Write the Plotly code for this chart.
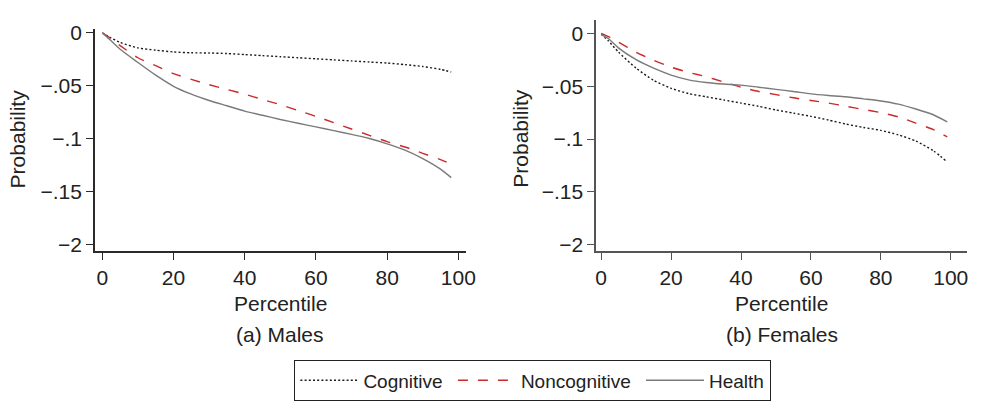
import plotly.graph_objects as go

# ---- data ----
pct_m = [0, 2, 5, 10, 15, 20, 25, 30, 35, 40, 45, 50, 55, 60, 65, 70, 75, 80, 85, 90, 95, 98]
cog_m = [0, -0.004, -0.009, -0.0142, -0.0163, -0.018, -0.0188, -0.019, -0.0195, -0.0205, -0.0215,
         -0.0225, -0.0235, -0.0245, -0.0255, -0.0265, -0.0275, -0.0285, -0.030, -0.0318, -0.0345, -0.037]
non_m = [0, -0.0045, -0.012, -0.0235, -0.031, -0.0385, -0.044, -0.049, -0.0535, -0.058, -0.063,
         -0.068, -0.0735, -0.079, -0.085, -0.091, -0.097, -0.103, -0.108, -0.114, -0.120, -0.124]
hea_m = [0, -0.006, -0.0155, -0.028, -0.040, -0.0505, -0.058, -0.064, -0.069, -0.074, -0.078,
         -0.082, -0.0855, -0.089, -0.0925, -0.096, -0.100, -0.105, -0.111, -0.119, -0.129, -0.137]

pct_f = [0, 2, 5, 10, 15, 20, 25, 30, 35, 40, 45, 50, 55, 60, 65, 70, 75, 80, 85, 90, 95, 99]
cog_f = [-0.001, -0.007, -0.018, -0.033, -0.0445, -0.052, -0.057, -0.060, -0.063, -0.066, -0.069,
         -0.0725, -0.0755, -0.0785, -0.082, -0.0858, -0.089, -0.0918, -0.096, -0.1018, -0.111, -0.1216]
non_f = [0, -0.003, -0.0085, -0.018, -0.0255, -0.032, -0.037, -0.041, -0.046, -0.051, -0.055,
         -0.058, -0.061, -0.0635, -0.066, -0.069, -0.072, -0.075, -0.079, -0.085, -0.091, -0.098]
hea_f = [-0.001, -0.005, -0.014, -0.025, -0.033, -0.0395, -0.044, -0.0465, -0.048, -0.049, -0.051,
         -0.053, -0.055, -0.0573, -0.0588, -0.060, -0.062, -0.064, -0.067, -0.0716, -0.077, -0.0837]

series_names = ["Cognitive", "Noncognitive", "Health"]
y_tickvals = [0, -0.05, -0.1, -0.15, -0.2]
y_ticktext = ["0", "\u2212.05", "\u2212.1", "\u2212.15", "\u22122"]
x_tickvals = [0, 20, 40, 60, 80, 100]
panel_titles = ["(a) Males", "(b) Females"]
x_title = "Percentile"
y_title = "Probability"

# ---- styles ----
FONT = "Liberation Sans, Arial, Helvetica, sans-serif"
TXT = "#222222"
styles = [
    dict(color="#1a1a1a", width=1.4, dash="2px,2.2px"),
    dict(color="#cc2a2a", width=1.4, dash="10px,10px"),
    dict(color="#7a7a7a", width=1.4, dash="solid"),
]
PAD = "\u00a0"
legend_labels = [series_names[0] + PAD, series_names[1] + PAD, series_names[2]]

fig = go.Figure()
panels = [(pct_m, [cog_m, non_m, hea_m], "x", "y"), (pct_f, [cog_f, non_f, hea_f], "x2", "y2")]
for pi, (xs, ys_list, xa, ya) in enumerate(panels):
    for si, ys in enumerate(ys_list):
        fig.add_trace(go.Scatter(
            x=xs, y=ys, mode="lines", name=legend_labels[si],
            line=dict(shape="spline", smoothing=0.6, **styles[si]),
            xaxis=xa, yaxis=ya, showlegend=(pi == 0), hoverinfo="skip"))

W, H = 984, 401
def px_x(p): return p / W
def px_y(p): return 1 - p / H

axis_common = dict(showgrid=False, zeroline=False, showline=True, ticks="outside",
                   ticklen=7, tickwidth=1.2,
                   tickfont=dict(family=FONT, size=21, color=TXT))

fig.update_layout(
    width=W, height=H, margin=dict(l=0, r=0, t=0, b=0),
    paper_bgcolor="white", plot_bgcolor="white",
    font=dict(family=FONT, color=TXT),
    xaxis=dict(domain=[px_x(95), px_x(470)], range=[-2.08, 102.08], tickvals=x_tickvals,
               anchor="y", linecolor="#2a2a2a", linewidth=1.6, tickcolor="#2a2a2a", **axis_common),
    yaxis=dict(domain=[px_y(253), px_y(22)], range=[-0.2064, 0.0036], tickvals=y_tickvals,
               ticktext=y_ticktext, anchor="x", linecolor="#2a2a2a", linewidth=1.6,
               tickcolor="#2a2a2a", **axis_common),
    xaxis2=dict(domain=[px_x(602), px_x(977)], range=[-1.41, 104.67], tickvals=x_tickvals,
                anchor="y2", linecolor="#555555", linewidth=1.8, tickcolor="#555555", **axis_common),
    yaxis2=dict(domain=[px_y(253), px_y(12)], range=[-0.2057, 0.013], tickvals=y_tickvals,
                ticktext=y_ticktext, anchor="x2", linecolor="#555555", linewidth=1.8,
                tickcolor="#555555", **axis_common),
    legend=dict(orientation="h", x=px_x(537.5), xanchor="center", y=px_y(367), yanchor="top",
                bordercolor="#222222", borderwidth=1.4, bgcolor="white",
                font=dict(family=FONT, size=19, color=TXT), itemwidth=58,
                tracegroupgap=0),
    showlegend=True,
)

annots = []
for cx, title in [(282.5, panel_titles[0]), (789.5, panel_titles[1])]:
    annots.append(dict(text=x_title, x=px_x(cx), y=px_y(308), xref="paper", yref="paper",
                       showarrow=False, font=dict(family=FONT, size=21, color=TXT),
                       xanchor="center", yanchor="middle"))
    annots.append(dict(text=title, x=px_x(cx), y=px_y(340), xref="paper", yref="paper",
                       showarrow=False, font=dict(family=FONT, size=21, color=TXT),
                       xanchor="center", yanchor="middle"))
for cx in [17, 525]:
    annots.append(dict(text=y_title, x=px_x(cx), y=px_y(136), xref="paper", yref="paper",
                       showarrow=False, textangle=-90, font=dict(family=FONT, size=21, color=TXT),
                       xanchor="center", yanchor="middle"))
fig.update_layout(annotations=annots)

fig.write_html("out.html")
